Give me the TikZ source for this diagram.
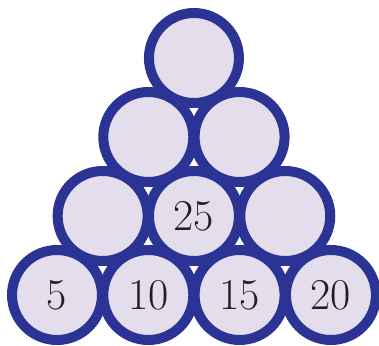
\documentclass[tikz,border=0pt]{standalone}
\definecolor{ringblue}{RGB}{43,51,148}
\definecolor{lav}{RGB}{228,222,236}
\definecolor{ink}{RGB}{35,31,32}
\begin{document}
\begin{tikzpicture}[x=1pt,y=-1pt,
  ball/.style={circle,draw=ringblue,fill=lav,line width=10pt,minimum size=90pt,inner sep=0pt,
    text=ink,font=\fontsize{44}{46}\selectfont}]
\useasboundingbox (0,0) rectangle (379,345);
\def\dd{91.3}
\def\vv{79}
% bottom row y=295
\node[ball] (b1) at (57,295) {5};
\node[ball] (b2) at (57+\dd,295) {10};
\node[ball] (b3) at (57+2*\dd,295) {15};
\node[ball] (b4) at (57+3*\dd,295) {20};
\node[ball] (c1) at (57+0.5*\dd,295-\vv) {};
\node[ball] (c2) at (57+1.5*\dd,295-\vv) {25};
\node[ball] (c3) at (57+2.5*\dd,295-\vv) {};
\node[ball] (d1) at (57+\dd,295-2*\vv) {};
\node[ball] (d2) at (57+2*\dd,295-2*\vv) {};
\node[ball] (e1) at (57+1.5*\dd,295-3*\vv) {};
\end{tikzpicture}
\end{document}
